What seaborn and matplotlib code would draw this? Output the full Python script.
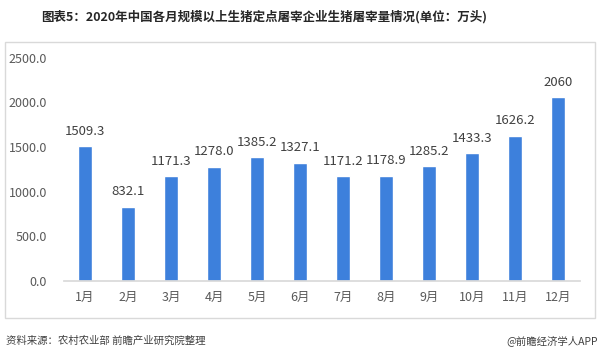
import matplotlib
matplotlib.use('Agg')
import matplotlib.pyplot as plt
import pandas as pd
import seaborn as sns
from matplotlib.patches import Rectangle

months = ['1月', '2月', '3月', '4月', '5月', '6月',
          '7月', '8月', '9月', '10月', '11月', '12月']
slaughter = [1509.3, 832.1, 1171.3, 1278.0, 1385.2, 1327.1,
             1171.2, 1178.9, 1285.2, 1433.3, 1626.2, 2060]
value_labels = ['1509.3', '832.1', '1171.3', '1278.0', '1385.2', '1327.1',
                '1171.2', '1178.9', '1285.2', '1433.3', '1626.2', '2060']
yticks = [0, 500, 1000, 1500, 2000, 2500]

sns.set_theme(style='white')
plt.rcParams['font.family'] = ['Noto Sans CJK SC', 'DejaVu Sans']

df = pd.DataFrame({'month': months, 'value': slaughter})

fig = plt.figure(figsize=(6, 3.57), dpi=100)
fig.patches.append(Rectangle((5 / 600, 1 - 318 / 357), 590 / 600, 276 / 357,
                             transform=fig.transFigure, fill=False,
                             edgecolor='#d9d9d9', linewidth=1))
ax = fig.add_axes([0.106, 0.213, 0.86, 0.625])
sns.barplot(data=df, x='month', y='value', color='#3d80dc', width=0.31,
            saturation=1, ax=ax)

# labels above each bar
for i, (v, lab) in enumerate(zip(slaughter, value_labels)):
    ax.text(i, v + 95, lab, ha='center', va='bottom', fontsize=9.5, color='#404040')

ax.set_ylim(0, 2500)
ax.set_xlim(-0.5, 11.5)
ax.set_yticks(yticks)
ax.set_yticklabels([f'{t:.1f}' for t in yticks], fontsize=9, color='#595959')
ax.tick_params(axis='x', labelsize=9, colors='#595959', length=0, pad=7)
ax.tick_params(axis='y', length=0, pad=12)
ax.set_xlabel('')
ax.set_ylabel('')
for s in ['top', 'right', 'left']:
    ax.spines[s].set_visible(False)
ax.spines['bottom'].set_color('#d9d9d9')

fig.text(0.068, 0.952, '图表5：2020年中国各月规模以上生猪定点屠宰企业生猪屠宰量情况(单位：万头)',
         fontsize=9, fontweight='bold', color='#262626', va='center')
fig.text(0.01, 0.045, '资料来源：农村农业部 前瞻产业研究院整理', fontsize=7.5,
         color='#404040', va='center')
fig.text(0.997, 0.045, '@前瞻经济学人APP', fontsize=7.5, color='#404040',
         va='center', ha='right')

plt.savefig('out.png', dpi=100)
